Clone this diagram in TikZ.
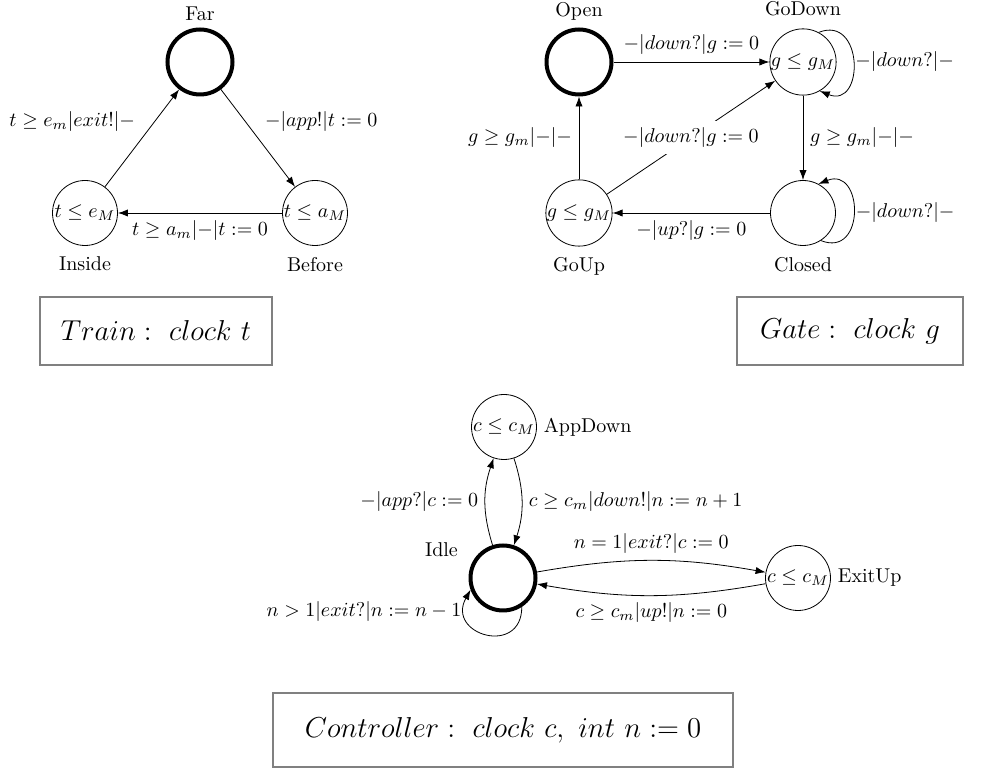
\documentclass[tikz,border=0pt]{standalone}
\usetikzlibrary{arrows.meta}

\tikzset{
  state/.style={circle,draw,minimum size=32.5pt,inner sep=0pt},
  initstate/.style={state,line width=2pt},
  decl/.style={draw=gray,line width=1pt,font=\fontsize{15.5}{18}\selectfont},
  below name/.style={label={[label distance=2pt]below:#1}},
}

\begin{document}
\begin{tikzpicture}[x=0.5pt,y=-0.5pt,>={Latex[length=5pt,width=3.6pt]}]
\useasboundingbox (0,0) rectangle (981,769);
% Train
\node[initstate,label=above:Far] (far) at (200,62) {};
\node[state,below name=Inside] (inside) at (85,213) {$t\leq e_M$};
\node[state,below name=Before] (before) at (315,213) {$t\leq a_M$};
\draw[->] (far) -- node[above right] {$-|app!|t:=0$} (before);
\draw[->] (before) -- node[below] {$t\geq a_m|{-}|t:=0$} (inside);
\draw[->] (inside) -- node[above left] {$t\geq e_m|exit!|-$} (far);
\node[decl,minimum width=116pt,minimum height=34pt] (trainbox) at (156,331) {$Train:\ clock\ t$};
% Gate
\node[initstate,label=above:Open] (open) at (579,62) {};
\node[state,label={[label distance=2.5pt]above:GoDown}] (godown) at (803,62) {$g\leq g_M$};
\node[state,below name=GoUp] (goup) at (579,213) {$g\leq g_M$};
\node[state,below name=Closed] (closed) at (803,213) {};
\draw[->] (open) -- node[above] {$-|down?|g:=0$} (godown);
\draw[->] (godown.62) .. controls +(45,-18) and +(45,18) .. node[right,inner sep=1pt] {$-|down?|-$} (godown.-60);
\draw[->] (godown) -- node[right] {$g\geq g_m|{-}|-$} (closed);
\draw[->] (closed.-57) .. controls +(45,18) and +(45,-18) .. node[right,inner sep=1pt] {$-|down?|-$} (closed.62);
\draw[->] (closed) -- node[below] {$-|up?|g:=0$} (goup);
\draw[->] (goup) -- node[left] {$g\geq g_m|{-}|-$} (open);
\draw[->] (goup) -- node[fill=white] {$-|down?|g:=0$} (godown);
\node[decl,minimum width=113pt,minimum height=34pt] (gatebox) at (850,331) {$Gate:\ clock\ g$};
% Controller
\node[initstate,label={[label distance=3pt]160:Idle}] (idle) at (503,578) {};
\node[state,label=right:AppDown] (appdown) at (504,427) {$c\leq c_M$};
\node[state,label=right:ExitUp] (exitup) at (798,578) {$c\leq c_M$};
\draw[->] (idle) to[bend left=18] node[left] {$-|app?|c:=0$} (appdown);
\draw[->] (appdown) to[bend left=18] node[right] {$c\geq c_m|down!|n:=n+1$} (idle);
\draw[->] (idle) to[bend left=10] node[above] {$n=1|exit?|c:=0$} (exitup);
\draw[->] (exitup) to[bend left=10] node[below] {$c\geq c_m|up!|n:=0$} (idle);
\draw[->] (idle.-57) .. controls +(0,50) and +(-25,45) .. node[left,pos=0.82,inner sep=2pt] {$n>1|exit?|n:=n-1$} (idle.200);
\node[decl,minimum width=230pt,minimum height=37pt] (ctrlbox) at (503,730) {$Controller:\ clock\ c,\ int\ n:=0$};
\end{tikzpicture}
\end{document}
